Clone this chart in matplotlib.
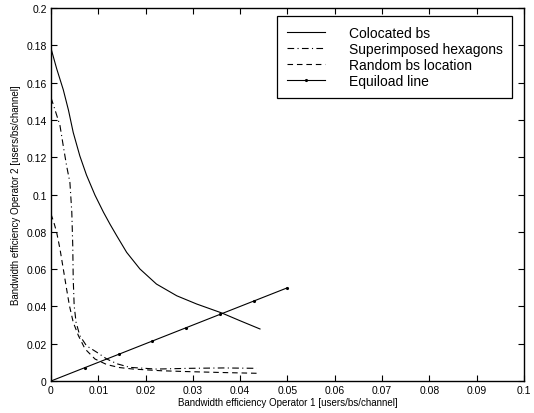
import matplotlib.pyplot as plt
import numpy as np

plt.rcParams['font.family'] = ['Liberation Sans', 'DejaVu Sans']

# Colocated bs
colo_x = [0.0, 0.0012, 0.0026, 0.0037, 0.0047, 0.0061, 0.0075, 0.0093, 0.0111, 0.0125, 0.0139, 0.016,
          0.0188, 0.0223, 0.0266, 0.0308, 0.0361, 0.040, 0.0442]
colo_y = [0.1784, 0.1675, 0.1562, 0.1452, 0.1333, 0.1207, 0.1105, 0.0997, 0.0905, 0.0840, 0.0779, 0.069,
          0.0601, 0.052, 0.0457, 0.0413, 0.0365, 0.0323, 0.0279]

# Superimposed hexagons
hex_x = [0.0, 0.0008, 0.0019, 0.0026, 0.0033, 0.004, 0.0044, 0.0046, 0.0047, 0.0049, 0.0053, 0.0061,
         0.0075, 0.0097, 0.0118, 0.014, 0.0167, 0.0223, 0.0294, 0.0364, 0.0435]
hex_y = [0.152, 0.1458, 0.137, 0.126, 0.1154, 0.1065, 0.0905, 0.0726, 0.0547, 0.0404, 0.0315, 0.0243,
         0.0189, 0.0154, 0.0118, 0.0092, 0.0073, 0.0064, 0.0068, 0.007, 0.0068]

# Random bs location
rnd_x = [0.0, 0.0006, 0.0012, 0.0019, 0.0026, 0.0033, 0.0039, 0.0047, 0.0058, 0.0072, 0.0093, 0.0118,
         0.0145, 0.0174, 0.0233, 0.0294, 0.037, 0.0442]
rnd_y = [0.0895, 0.0851, 0.0797, 0.0708, 0.0601, 0.0493, 0.0404, 0.0315, 0.0243, 0.0172, 0.0118, 0.0088,
         0.0072, 0.0064, 0.0055, 0.005, 0.0045, 0.0041]

# Equiload line
eq_x = np.linspace(0, 0.05, 8)
eq_y = np.linspace(0, 0.05, 8)

fig = plt.figure(figsize=(5.34, 4.14), dpi=100)
ax = fig.add_axes([0.0955, 0.0773, 0.8855, 0.9007])

ax.plot(colo_x, colo_y, 'k-', lw=0.8, label='Colocated bs')
ax.plot(hex_x, hex_y, color='k', lw=0.8, linestyle=(0, (6, 3, 1, 3)), label='Superimposed hexagons')
ax.plot(rnd_x, rnd_y, color='k', lw=0.8, linestyle=(0, (5, 3.5)), label='Random bs location')
ax.plot(eq_x, eq_y, 'k-', lw=0.8, marker='.', markersize=2.5, label='Equiload line')

ax.set_xlim(0, 0.1)
ax.set_ylim(0, 0.2)
ax.set_xticks(np.arange(0, 0.101, 0.01))
ax.set_yticks(np.arange(0, 0.201, 0.02))
ax.set_xticklabels(['0', '0.01', '0.02', '0.03', '0.04', '0.05', '0.06', '0.07', '0.08', '0.09', '0.1'])
ax.set_yticklabels(['0', '0.02', '0.04', '0.06', '0.08', '0.1', '0.12', '0.14', '0.16', '0.18', '0.2'])
ax.tick_params(direction='in', top=True, right=True, labelsize=7.5, length=4, width=0.8, pad=3)
for s in ax.spines.values():
    s.set_linewidth(1.0)

ax.set_xlabel('Bandwidth efficiency Operator 1 [users/bs/channel]', fontsize=7, labelpad=1)
ax.set_ylabel('Bandwidth efficiency Operator 2 [users/bs/channel]', fontsize=7, labelpad=4)

leg = ax.legend(loc='upper left', bbox_to_anchor=(0.478, 0.9786), fontsize=10,
                fancybox=False, edgecolor='black', framealpha=1, borderaxespad=0,
                handlelength=2.75, handletextpad=1.7, labelspacing=0.15, borderpad=0.7)
leg.get_frame().set_linewidth(0.9)

fig.savefig('out.png', dpi=100)
